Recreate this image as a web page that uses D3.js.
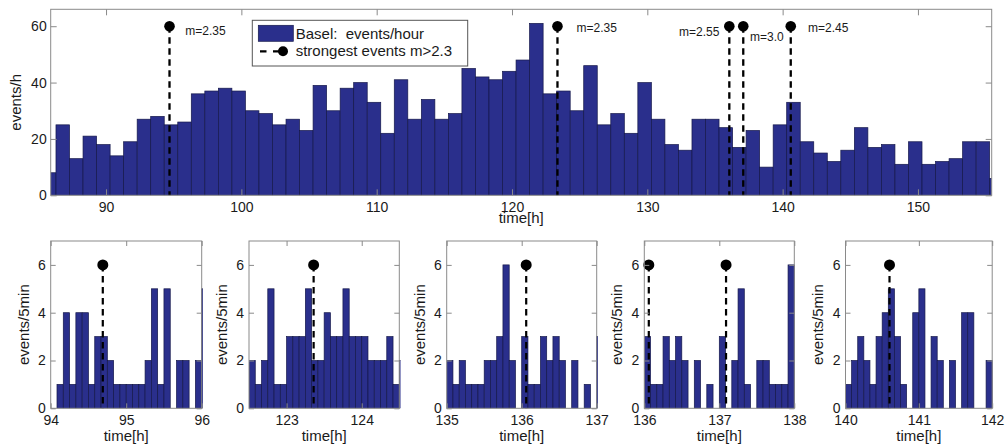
<!DOCTYPE html>
<html><head><meta charset="utf-8">
<script src="https://cdn.jsdelivr.net/npm/d3@7"></script>
<style>
body{margin:0;background:#fff}
svg{display:block;font-family:"Liberation Sans",Arial,sans-serif}
</style>
</head><body>
<svg id="c" width="1008" height="448"></svg>
<script>
// ---------------- DATA ----------------
const hourlyStart = 85.3;            // left edge of the first hourly bin [h]
const hourlyCounts = [8,25,13,21,18,14,19,27,28,25,26,36,37,38,37,30,29,25,27,23,
  39,30,38,40,33,22,41,27,34,27,29,45,42,41,44,48,61,36,37,30,
  46,25,29,22,40,27,18,16,27,27,24,17,23,10,25,33,19,15,12,16,
  24,17,18,11,19,11,12,13,19,19,6];
const eventTimes  = [94.69, 123.36, 136.06, 137.09, 140.6];
const eventLabels = ["m=2.35","m=2.35","m=2.55","m=3.0","m=2.45"];
const topMarkerLevel = 60;
const panelMarkerLevel = 6;
const topXTicks = [90,100,110,120,130,140,150];
const topYTicks = [0,20,40,60];
const panelRanges = [[94,96],[122.5,124.5],[135,137],[136,138],[140,142]];
const panelXTicks = [[94,95,96],[123,124],[135,136,137],[136,137,138],[140,141,142]];
const panelYTicks = [0,2,4,6];
const binHours = 5/60;
const panelCounts = [
  [0,1,4,1,4,4,1,3,3,2,1,1,1,1,1,2,5,1,5,0,2,2,0,2,5],
  [2,1,2,5,1,1,3,3,3,5,2,2,4,3,3,5,3,3,3,2,2,2,3,1,2],
  [2,1,2,1,1,1,2,2,3,6,2,0,3,1,1,3,2,3,2,0,2,0,1,0,3],
  [3,1,1,3,2,3,2,0,2,0,1,0,3,0,2,5,1,0,2,2,1,1,1,6],
  [1,2,3,2,1,3,4,5,3,1,0,4,5,0,3,2,0,2,0,4,4,0,0,2]
];
const legendLabels = ["Basel:  events/hour","strongest events m>2.3"];

// ---------------- STYLE / LAYOUT ----------------
const barFill = "#2a2f8c", barEdge = "#15184a", frameCol = "#8a8a8a", textCol = "#1a1a1a";
const svg = d3.select("#c");
const defs = svg.append("defs");

function drawAxes(g, x, y, xt, yt, W, H, fs, ypad, xpad, tickLen) {
  const fmt = d3.format("d");
  const ax = [
    g.append("g").attr("transform",`translate(0,${H})`).call(d3.axisBottom(x).tickValues(xt).tickSize(-tickLen).tickPadding(xpad).tickFormat(fmt)),
    g.append("g").call(d3.axisTop(x).tickValues(xt).tickSize(-tickLen).tickFormat("")),
    g.append("g").call(d3.axisLeft(y).tickValues(yt).tickSize(-tickLen).tickPadding(ypad).tickFormat(fmt)),
    g.append("g").attr("transform",`translate(${W},0)`).call(d3.axisRight(y).tickValues(yt).tickSize(-tickLen).tickFormat(""))
  ];
  ax.forEach(a => {
    a.select(".domain").remove();
    a.selectAll(".tick line").attr("stroke", frameCol);
    a.selectAll(".tick text").attr("fill", textCol).style("font-size", fs + "px");
  });
  g.append("rect").attr("width",W).attr("height",H).attr("fill","none").attr("stroke",frameCol).attr("stroke-width",1);
}

// ---------------- TOP CHART ----------------
(function(){
  const L=50.7, R=991.7, T=9.3, B=195.3, W=R-L, H=B-T;
  const x = d3.scaleLinear().domain([85.91,155.45]).range([0,W]);
  const y = d3.scaleLinear().domain([0,66]).range([H,0]);
  const g = svg.append("g").attr("transform",`translate(${L},${T})`);
  defs.append("clipPath").attr("id","clipTop").append("rect").attr("width",W).attr("height",H);
  const bars = g.append("g").attr("clip-path","url(#clipTop)");
  bars.selectAll("rect").data(hourlyCounts).join("rect")
    .attr("x",(d,i)=>x(hourlyStart+i))
    .attr("width",(d,i)=>x(hourlyStart+i+1)-x(hourlyStart+i))
    .attr("y",d=>y(d)).attr("height",d=>y(0)-y(d))
    .attr("fill",barFill).attr("stroke",barEdge).attr("stroke-width",0.7);

  const labOff = [[15.7,4],[19,1],[-10,5],[6.7,10],[17.3,1]];
  const anchors = ["start","start","end","start","start"];
  eventTimes.forEach((t,i)=>{
    g.append("line").attr("x1",x(t)).attr("x2",x(t)).attr("y1",y(topMarkerLevel)).attr("y2",y(0))
      .attr("stroke","#000").attr("stroke-width",2.3).attr("stroke-dasharray","6.5,4.5");
    g.append("circle").attr("cx",x(t)).attr("cy",y(topMarkerLevel)).attr("r",5.3).attr("fill","#000");
    g.append("text").attr("x",x(t)+labOff[i][0]).attr("y",y(topMarkerLevel)+labOff[i][1]+2)
      .attr("text-anchor",anchors[i]).attr("dominant-baseline","middle")
      .style("font-size","12px").attr("fill",textCol).text(eventLabels[i]);
  });

  drawAxes(g, x, y, topXTicks, topYTicks, W, H, 14, 4, 7, 6);

  g.append("text").attr("x",W/2).attr("y",H+27.4).attr("text-anchor","middle")
    .style("font-size","15px").attr("fill",textCol).text("time[h]");
  g.append("text").attr("transform",`translate(-34,${H/2}) rotate(-90)`).attr("text-anchor","middle")
    .attr("dominant-baseline","middle").style("font-size","15px").attr("fill",textCol).text("events/h");

  // legend
  const lg = svg.append("g");
  lg.append("rect").attr("x",252.3).attr("y",20.3).attr("width",215.4).attr("height",45.7)
    .attr("fill","#fff").attr("stroke","#555").attr("stroke-width",1);
  lg.append("rect").attr("x",258.3).attr("y",25.3).attr("width",35).attr("height",16)
    .attr("fill",barFill).attr("stroke",barEdge).attr("stroke-width",0.7);
  lg.append("line").attr("x1",260).attr("x2",283).attr("y1",51.3).attr("y2",51.3)
    .attr("stroke","#000").attr("stroke-width",2.3).attr("stroke-dasharray","6.5,6.5");
  lg.append("circle").attr("cx",283).attr("cy",51.3).attr("r",5).attr("fill","#000");
  legendLabels.forEach((s,i)=>{
    lg.append("text").attr("x",295.7).attr("y",39.3+i*17).style("font-size","15px")
      .style("white-space","pre").attr("fill",textCol).text(s);
  });
})();

// ---------------- BOTTOM PANELS ----------------
const panelL = [50.7,249,446.7,644.3,845.5];
const panelR = [201.7,399.3,596.7,794.3,992.2];
const pT = 241, pB = 408.3;
panelRanges.forEach((rng,p)=>{
  const L=panelL[p], W=panelR[p]-L, H=pB-pT;
  const x = d3.scaleLinear().domain(rng).range([0,W]);
  const y = d3.scaleLinear().domain([0,7]).range([H,0]);
  const g = svg.append("g").attr("transform",`translate(${L},${pT})`);
  defs.append("clipPath").attr("id","clipP"+p).append("rect").attr("width",W+1.2).attr("height",H);
  const bars = g.append("g").attr("clip-path",`url(#clipP${p})`);
  bars.selectAll("rect").data(panelCounts[p]).join("rect")
    .attr("x",(d,i)=>x(rng[0]+i*binHours))
    .attr("width",(d,i)=>x(rng[0]+(i+1)*binHours)-x(rng[0]+i*binHours))
    .attr("y",d=>y(d)).attr("height",d=>y(0)-y(d))
    .attr("fill",barFill).attr("stroke",barEdge).attr("stroke-width",0.7)
    .attr("display",d=>d>0?null:"none");
  eventTimes.filter(t=>t>=rng[0]&&t<=rng[1]).forEach(t=>{
    g.append("line").attr("x1",x(t)).attr("x2",x(t)).attr("y1",y(panelMarkerLevel)).attr("y2",y(0))
      .attr("stroke","#000").attr("stroke-width",2.2).attr("stroke-dasharray","6.5,4.5");
    g.append("circle").attr("cx",x(t)).attr("cy",y(panelMarkerLevel)).attr("r",5.5).attr("fill","#000");
  });
  drawAxes(g, x, y, panelXTicks[p], panelYTicks, W, H, 14, 5, 7, 5);
  g.append("text").attr("x",W/2).attr("y",H+32.7).attr("text-anchor","middle")
    .style("font-size","15px").attr("fill",textCol).text("time[h]");
  g.append("text").attr("transform",`translate(-26,${H/2}) rotate(-90)`).attr("text-anchor","middle")
    .attr("dominant-baseline","middle").style("font-size","15px").attr("fill",textCol).text("events/5min");
});
</script>
</body></html>
